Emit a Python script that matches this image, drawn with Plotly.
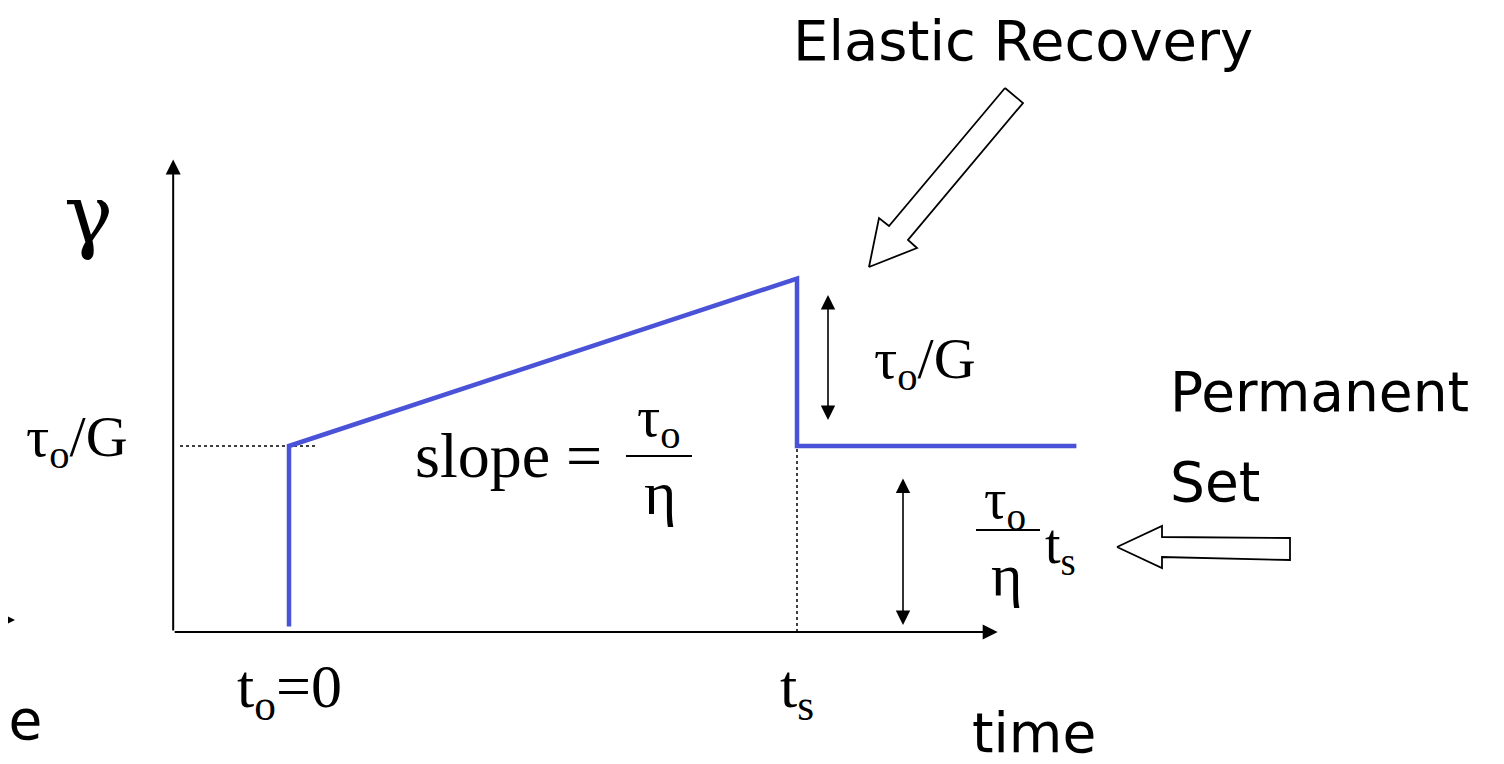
"""
Creep and recovery diagram (strain vs time)
"""
import plotly.graph_objs as go

# --- data (diagram units: time with t_o = 0, t_s = 10 ; strain with tau_o/G = 1) ---
t_curve = [0, 0, 10, 10, 15.5]
gamma_curve = [0.03, 1.0, 1.9, 1.0, 1.0]
t_s = 10
gamma_elastic = 1.0          # tau_o / G
gamma_peak = 1.9
gamma_perm = 1.0

x_axis_start, x_axis_end = -2.28, 13.95
y_axis_end = 2.54

tick_vals = [0, t_s]
tick_text = ["t<sub>o</sub>=0", "t<sub>s</sub>"]

# page pixel -> data helpers (the page body has an 8px margin)
PAD = 8
W, H = 1504 - PAD, 764 - PAD
X0, SX = 289 - PAD, 50.8
Y0, SY = 632 - PAD, 186


def dx(px):
    return (px - PAD - X0) / SX


def dy(py):
    return (Y0 - (py - PAD)) / SY


BLUE = "#4a52d8"
SERIF = "Liberation Serif"
GREEK = "DejaVu Serif"
HAND = "DejaVu Sans"

fig = go.Figure()

# dotted guides
fig.add_trace(go.Scatter(x=[dx(180), dx(316)], y=[gamma_elastic, gamma_elastic], mode="lines",
                         line=dict(color="black", width=1.5, dash="dot"), hoverinfo="skip"))
fig.add_trace(go.Scatter(x=[t_s, t_s], y=[0, gamma_perm], mode="lines",
                         line=dict(color="black", width=1.5, dash="dot"), hoverinfo="skip"))

# strain curve
fig.add_trace(go.Scatter(x=t_curve, y=gamma_curve, mode="lines",
                         line=dict(color=BLUE, width=4.5), hoverinfo="skip"))

# block arrows (hollow)
elastic_arrow = [(1005, 88), (1023, 103), (908, 240), (917, 248), (869, 267),
                 (879, 218), (889, 226), (1005, 88)]
perm_arrow = [(1117, 547), (1162, 526), (1162, 537), (1290, 538), (1290, 560),
              (1162, 557), (1162, 568), (1117, 547)]
for poly in (elastic_arrow, perm_arrow):
    fig.add_trace(go.Scatter(x=[dx(p[0]) for p in poly], y=[dy(p[1]) for p in poly],
                             mode="lines", fill="toself", fillcolor="white",
                             line=dict(color="black", width=1.8), hoverinfo="skip"))

annotations = []


def arrow(x0, y0, x1, y1, both=False, width=2, size=1.5):
    annotations.append(dict(x=x1, y=y1, ax=x0, ay=y0, xref="x", yref="y", axref="x", ayref="y",
                            text="", showarrow=True, arrowhead=2, startarrowhead=2,
                            arrowside="end+start" if both else "end",
                            arrowwidth=width, arrowsize=size, startarrowsize=size,
                            arrowcolor="black", font=dict(size=12)))


def label(x, y, text, size, family=SERIF, xanchor="center"):
    annotations.append(dict(x=x, y=y, xref="x", yref="y", text=text, showarrow=False,
                            xanchor=xanchor, yanchor="middle",
                            font=dict(family=family, size=size, color="black")))


# axes
arrow(x_axis_start, 0, x_axis_start, y_axis_end)
arrow(x_axis_start, 0, x_axis_end, 0)
arrow(dx(-20), dy(620), dx(15), dy(620))

# double arrows
arrow(dx(828), gamma_peak - 0.08, dx(828), gamma_perm + 0.14, both=True, width=1.6, size=1.8)
arrow(dx(903), dy(477), dx(903), dy(625), both=True, width=1.6, size=1.8)

# serif labels
label(dx(88), dy(214), "γ", 82, GREEK)
label(dx(77), dy(440), "τ<sub>o</sub>/G", 58)
label(dx(925), dy(362), "τ<sub>o</sub>/G", 58)
label(dx(508), dy(455), "slope =", 64)
label(dx(659), dy(420), "τ<sub>o</sub>", 58)
label(dx(660), dy(493), "η", 62)
label(dx(1005), dy(503), "τ<sub>o</sub>", 56)
label(dx(1006), dy(575), "η", 60)
label(dx(1043), dy(548), "t<sub>s</sub>", 56, xanchor="left")
for tv, tt in zip(tick_vals, tick_text):
    label(tv, dy(690), tt, 62)

# hand-written style labels
label(dx(1023), dy(40), "Elastic Recovery", 56, HAND)
label(dx(1168), dy(392), "Permanent", 55, HAND, xanchor="left")
label(dx(1168), dy(482), "Set", 55, HAND, xanchor="left")
label(dx(1034), dy(733), "time", 55, HAND)
label(dx(44), dy(720), "time", 55, HAND, xanchor="right")

# fraction bars
shapes = [
    dict(type="line", xref="x", yref="y", x0=dx(626), x1=dx(692), y0=dy(456), y1=dy(456),
         line=dict(color="black", width=2)),
    dict(type="line", xref="x", yref="y", x0=dx(976), x1=dx(1040), y0=dy(530), y1=dy(530),
         line=dict(color="black", width=2)),
]

fig.update_layout(
    width=W, height=H,
    margin=dict(l=0, r=0, t=0, b=0),
    paper_bgcolor="white", plot_bgcolor="white",
    showlegend=False,
    font=dict(family=SERIF, size=20, color="black"),
    xaxis=dict(range=[dx(PAD), dx(PAD + W)], visible=False, fixedrange=True),
    yaxis=dict(range=[dy(PAD + H), dy(PAD)], visible=False, fixedrange=True),
    annotations=annotations,
    shapes=shapes,
)

fig.write_html("out.html", config={"displayModeBar": False})
